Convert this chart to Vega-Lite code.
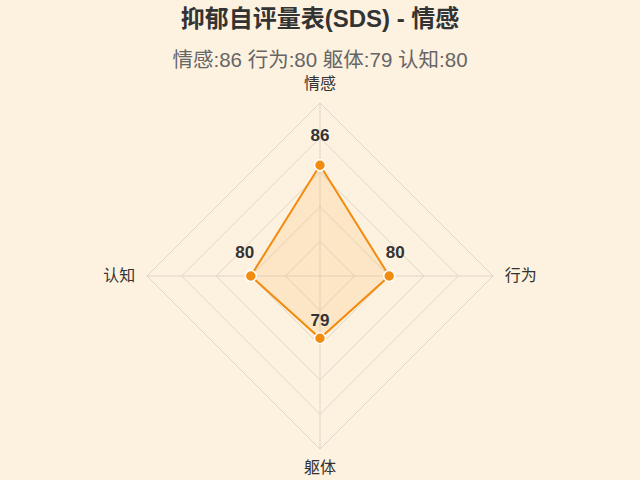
{
  "$schema": "https://vega.github.io/schema/vega-lite/v6.json",
  "width": 346,
  "height": 346,
  "autosize": {"type": "none"},
  "padding": {"left": 147, "top": 103, "right": 147, "bottom": 31},
  "background": "#fdf1df",
  "config": {
    "view": {"stroke": null},
    "font": "Liberation Sans, Noto Sans CJK SC"
  },
  "title": {
    "text": "抑郁自评量表(SDS) - 情感",
    "subtitle": "情感:86 行为:80 躯体:79 认知:80",
    "anchor": "middle",
    "fontSize": 24,
    "fontWeight": "bold",
    "color": "#333333",
    "subtitleFontSize": 20.5,
    "subtitleColor": "#666666",
    "subtitlePadding": 19,
    "offset": 4
  },
  "datasets": {
    "scores": [
      {"axis": "情感", "value": 86},
      {"axis": "行为", "value": 80},
      {"axis": "躯体", "value": 79},
      {"axis": "认知", "value": 80}
    ],
    "outline": [
      {"axis": "情感", "value": 86, "k": 0},
      {"axis": "行为", "value": 80, "k": 1},
      {"axis": "躯体", "value": 79, "k": 2},
      {"axis": "认知", "value": 80, "k": 3},
      {"axis": "情感", "value": 86, "k": 4}
    ],
    "grid": [
      {"level": 75, "axis": "情感", "k": 0}, {"level": 75, "axis": "行为", "k": 1}, {"level": 75, "axis": "躯体", "k": 2}, {"level": 75, "axis": "认知", "k": 3}, {"level": 75, "axis": "情感", "k": 4},
      {"level": 80, "axis": "情感", "k": 0}, {"level": 80, "axis": "行为", "k": 1}, {"level": 80, "axis": "躯体", "k": 2}, {"level": 80, "axis": "认知", "k": 3}, {"level": 80, "axis": "情感", "k": 4},
      {"level": 85, "axis": "情感", "k": 0}, {"level": 85, "axis": "行为", "k": 1}, {"level": 85, "axis": "躯体", "k": 2}, {"level": 85, "axis": "认知", "k": 3}, {"level": 85, "axis": "情感", "k": 4},
      {"level": 90, "axis": "情感", "k": 0}, {"level": 90, "axis": "行为", "k": 1}, {"level": 90, "axis": "躯体", "k": 2}, {"level": 90, "axis": "认知", "k": 3}, {"level": 90, "axis": "情感", "k": 4},
      {"level": 95, "axis": "情感", "k": 0}, {"level": 95, "axis": "行为", "k": 1}, {"level": 95, "axis": "躯体", "k": 2}, {"level": 95, "axis": "认知", "k": 3}, {"level": 95, "axis": "情感", "k": 4}
    ],
    "spokes": [
      {"axis": "情感", "level": 95},
      {"axis": "行为", "level": 95},
      {"axis": "躯体", "level": 95},
      {"axis": "认知", "level": 95}
    ]
  },
  "layer": [
    {
      "data": {"name": "grid"},
      "transform": [
        {"calculate": "datum.level - 70", "as": "r"},
        {"calculate": "datum.axis === '行为' ? datum.r : datum.axis === '认知' ? -datum.r : 0", "as": "x"},
        {"calculate": "datum.axis === '情感' ? datum.r : datum.axis === '躯体' ? -datum.r : 0", "as": "y"}
      ],
      "mark": {"type": "line", "color": "#d8d0c4", "strokeWidth": 1, "opacity": 0.8},
      "encoding": {
        "x": {"field": "x", "type": "quantitative", "scale": {"domain": [-25, 25]}, "axis": null},
        "y": {"field": "y", "type": "quantitative", "scale": {"domain": [-25, 25]}, "axis": null},
        "detail": {"field": "level"},
        "order": {"field": "k"}
      }
    },
    {
      "data": {"name": "spokes"},
      "transform": [
        {"calculate": "datum.level - 70", "as": "r"},
        {"calculate": "datum.axis === '行为' ? datum.r : datum.axis === '认知' ? -datum.r : 0", "as": "x"},
        {"calculate": "datum.axis === '情感' ? datum.r : datum.axis === '躯体' ? -datum.r : 0", "as": "y"}
      ],
      "mark": {"type": "rule", "color": "#d8d0c4", "strokeWidth": 1, "opacity": 0.8},
      "encoding": {
        "x": {"field": "x", "type": "quantitative"},
        "y": {"field": "y", "type": "quantitative"},
        "x2": {"datum": 0},
        "y2": {"datum": 0}
      }
    },
    {
      "data": {"name": "spokes"},
      "transform": [
        {"calculate": "datum.axis === '行为' || datum.axis === '认知' ? 29 : 27.8", "as": "r"},
        {"calculate": "datum.axis === '行为' ? datum.r : datum.axis === '认知' ? -datum.r : 0", "as": "x"},
        {"calculate": "datum.axis === '情感' ? datum.r : datum.axis === '躯体' ? -datum.r : 0", "as": "y"}
      ],
      "mark": {"type": "text", "fontSize": 16, "color": "#333333", "baseline": "middle", "align": "center"},
      "encoding": {
        "x": {"field": "x", "type": "quantitative"},
        "y": {"field": "y", "type": "quantitative"},
        "text": {"field": "axis"}
      }
    },
    {
      "data": {"name": "scores"},
      "transform": [
        {"calculate": "datum.value - 70", "as": "r"},
        {"calculate": "datum.axis === '行为' ? datum.r : datum.axis === '认知' ? -datum.r : 0", "as": "x"},
        {"calculate": "datum.axis === '情感' ? datum.r : datum.axis === '躯体' ? -datum.r : 0", "as": "y"},
        {"aggregate": [{"op": "max", "field": "y", "as": "top"}, {"op": "min", "field": "y", "as": "bot"}], "groupby": ["x"]}
      ],
      "mark": {"type": "area", "color": "#f7a53a", "opacity": 0.15, "orient": "vertical"},
      "encoding": {
        "x": {"field": "x", "type": "quantitative"},
        "y": {"field": "top", "type": "quantitative"},
        "y2": {"field": "bot"}
      }
    },
    {
      "data": {"name": "outline"},
      "transform": [
        {"calculate": "datum.value - 70", "as": "r"},
        {"calculate": "datum.axis === '行为' ? datum.r : datum.axis === '认知' ? -datum.r : 0", "as": "x"},
        {"calculate": "datum.axis === '情感' ? datum.r : datum.axis === '躯体' ? -datum.r : 0", "as": "y"}
      ],
      "mark": {"type": "line", "color": "#f28c0f", "strokeWidth": 2},
      "encoding": {
        "x": {"field": "x", "type": "quantitative"},
        "y": {"field": "y", "type": "quantitative"},
        "order": {"field": "k"}
      }
    },
    {
      "data": {"name": "scores"},
      "transform": [
        {"calculate": "datum.value - 70", "as": "r"},
        {"calculate": "datum.axis === '行为' ? datum.r : datum.axis === '认知' ? -datum.r : 0", "as": "x"},
        {"calculate": "datum.axis === '情感' ? datum.r : datum.axis === '躯体' ? -datum.r : 0", "as": "y"}
      ],
      "mark": {"type": "point", "filled": true, "size": 120, "color": "#f28c0f", "stroke": "#ffffff", "strokeWidth": 1.5, "opacity": 1},
      "encoding": {
        "x": {"field": "x", "type": "quantitative"},
        "y": {"field": "y", "type": "quantitative"}
      }
    },
    {
      "data": {"name": "scores"},
      "transform": [
        {"calculate": "datum.value - 70 + 0.87", "as": "r"},
        {"calculate": "datum.axis === '行为' ? datum.r : datum.axis === '认知' ? -datum.r : 0", "as": "x"},
        {"calculate": "datum.axis === '情感' ? datum.r : datum.axis === '躯体' ? -datum.r : 0", "as": "y"}
      ],
      "mark": {"type": "text", "fontSize": 17, "fontWeight": "bold", "color": "#333333", "baseline": "middle", "align": "center", "dy": -23},
      "encoding": {
        "x": {"field": "x", "type": "quantitative"},
        "y": {"field": "y", "type": "quantitative"},
        "text": {"field": "value", "type": "quantitative"}
      }
    }
  ]
}
